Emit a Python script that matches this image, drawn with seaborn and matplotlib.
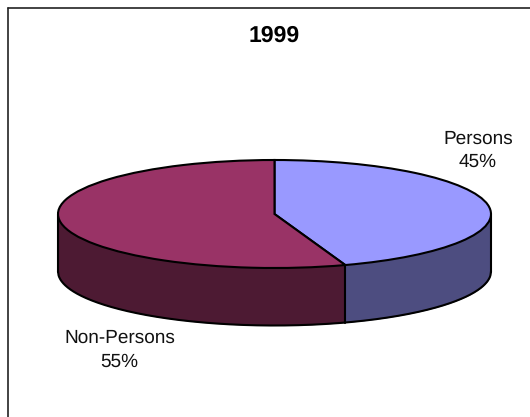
import numpy as np
import matplotlib
matplotlib.use("Agg")
import matplotlib.pyplot as plt
from matplotlib.lines import Line2D
import seaborn as sns

categories = ["Persons", "Non-Persons"]
shares = [44.7, 55.3]
title_text = "1999"
top_colors = ["#9999FF", "#993366"]
side_colors = ["#4D4D80", "#4D1A33"]

sns.set_theme(style="white")
plt.rcParams["font.family"] = ["Liberation Sans", "DejaVu Sans"]
plt.rcParams["text.hinting"] = "no_hinting"
plt.rcParams["text.hinting_factor"] = 1

W, H = 530, 417
fig = plt.figure(figsize=(W / 100, H / 100), dpi=100, facecolor="white")
ax = fig.add_axes([0, 0, 1, 1])

CX, CY, RX, RY, DEPTH = 274.5, 214.0, 216.5, 54.0, 57.5
d = DEPTH / RY
LW = 1.5
edge = dict(color="black", lw=LW, solid_capstyle="round", zorder=3)

# side wall of the disc
split = np.sin(2 * np.pi * shares[0] / sum(shares))
x = np.linspace(-1, 1, 721)
lower = -d - np.sqrt(1 - x ** 2)
ax.fill_between(x, lower, 0, where=x >= split, color=side_colors[0], lw=0, zorder=1, interpolate=True)
ax.fill_between(x, lower, 0, where=x <= split, color=side_colors[1], lw=0, zorder=1, interpolate=True)
ax.plot(x, lower, **edge)
ax.plot([-1, -1], [-d, 0], **edge)
ax.plot([1, 1], [-d, 0], **edge)
split_y = -np.sqrt(1 - split ** 2)
ax.plot([split, split], [split_y - d, split_y], **edge)

# top face
wedges, _ = ax.pie(
    shares,
    colors=top_colors,
    startangle=90,
    counterclock=False,
    radius=1,
    center=(0, 0),
    wedgeprops=dict(edgecolor="black", linewidth=LW, zorder=4),
)
ax.set_aspect("auto")
ax.set_xlim((0 - CX) / RX, (W - CX) / RX)
ax.set_ylim((CY - H) / RY, CY / RY)
ax.set_axis_off()

def px(xp, yp):
    return xp / W, 1 - yp / H

label_style = dict(ha="center", va="center", color="#111111", fontsize=13.4, linespacing=1.42)
fig.text(*px(274, 36), title_text, ha="center", va="center", fontsize=16.5, fontweight="bold", color="black")
fig.text(*px(478, 150.5), f"{categories[0]}\n{round(shares[0])}%", **label_style)
fig.text(*px(119.5, 350), f"{categories[1]}\n{round(shares[1])}%", **label_style)

# chart frame: top and left edges
fig.add_artist(Line2D([7.5 / W, 1], [1 - 7.5 / H, 1 - 7.5 / H], transform=fig.transFigure, color="#222222", lw=1.2))
fig.add_artist(Line2D([7.5 / W, 7.5 / W], [1 - 7.5 / H, 0], transform=fig.transFigure, color="#222222", lw=1.2))

fig.savefig("out.png", dpi=100, facecolor="white")
